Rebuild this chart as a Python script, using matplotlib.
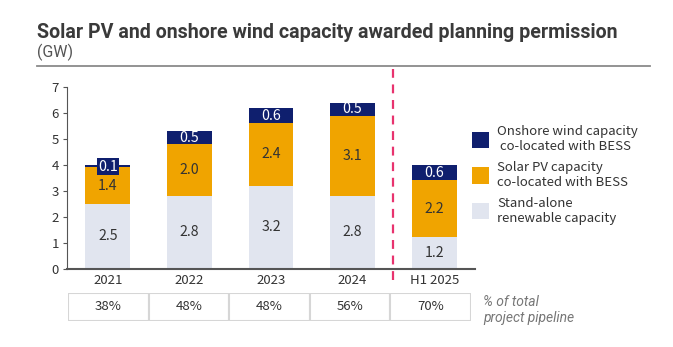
import matplotlib.pyplot as plt
from matplotlib.patches import Rectangle

plt.rcParams['font.family'] = ['Noto Sans CJK JP', 'DejaVu Sans']

# data
periods = ['2021', '2022', '2023', '2024', 'H1 2025']
standalone = [2.5, 2.8, 3.2, 2.8, 1.2]
solar_bess = [1.4, 2.0, 2.4, 3.1, 2.2]
wind_bess = [0.1, 0.5, 0.6, 0.5, 0.6]
pipeline_share = ['38%', '48%', '48%', '56%', '70%']

navy = '#0f1f6e'
orange = '#f0a400'
light = '#e1e5ef'
txt = '#333333'

fig = plt.figure(figsize=(6.73, 3.47), dpi=100)
ax = fig.add_axes([67/673, 1 - 268.5/347, (475-67)/673, (268.5-87)/347])

x = list(range(len(periods)))
w = 0.55
ax.bar(x, standalone, w, color=light, label='Stand-alone\nrenewable capacity')
bottom2 = standalone
ax.bar(x, solar_bess, w, bottom=bottom2, color=orange,
       label='Solar PV capacity\nco-located with BESS')
bottom3 = [a + b for a, b in zip(standalone, solar_bess)]
ax.bar(x, wind_bess, w, bottom=bottom3, color=navy,
       label='Onshore wind capacity\n co-located with BESS')

for i in x:
    ax.text(i, standalone[i] / 2, f'{standalone[i]:.1f}', ha='center', va='center',
            fontsize=10.2, color=txt)
    ax.text(i, bottom2[i] + solar_bess[i] / 2, f'{solar_bess[i]:.1f}', ha='center',
            va='center', fontsize=10.2, color=txt)
    if wind_bess[i] < 0.3:
        ax.text(i, bottom3[i] + 0.03, f'{wind_bess[i]:.1f}', ha='center', va='center',
                fontsize=10.2, color='white',
                bbox=dict(boxstyle='square,pad=0.1', fc=navy, ec='none'))
    else:
        ax.text(i, bottom3[i] + wind_bess[i] / 2, f'{wind_bess[i]:.1f}', ha='center',
                va='center', fontsize=10.2, color='white')

ax.set_xlim(-0.5, 4.5)
ax.set_ylim(0, 7)
ax.set_yticks(range(8))
ax.set_xticks(x)
ax.set_xticklabels(periods)
ax.tick_params(axis='y', length=3, color='#555555', labelcolor=txt, labelsize=9.5, pad=3)
ax.tick_params(axis='x', length=0, labelcolor=txt, labelsize=9.5, pad=4)
for s in ['top', 'right']:
    ax.spines[s].set_visible(False)
ax.spines['left'].set_color('#555555')
ax.spines['bottom'].set_color('#555555')
ax.spines['bottom'].set_linewidth(1.5)

# divider between full years and H1
ax.plot([3.5, 3.5], [-0.45, 7.7], color='#e8336e', lw=1.6, ls=(0, (4, 3)), clip_on=False)

handles, labels = ax.get_legend_handles_labels()
ax.legend(handles[::-1], labels[::-1], loc='upper left', bbox_to_anchor=(0.98, 0.82),
          frameon=False, fontsize=9.5, handlelength=1.3, handleheight=1.5,
          labelspacing=0.6, labelcolor=txt, handletextpad=0.6, borderaxespad=0)

# share of pipeline row
tab = fig.add_axes([68/673, 1 - 321/347, (471-68)/673, 28/347])
tab.set_xlim(0, 5)
tab.set_ylim(0, 1)
tab.axis('off')
for i, s in enumerate(pipeline_share):
    tab.add_patch(Rectangle((i, 0), 1, 1, fc='white', ec='#d6d6d6', lw=1.5))
    tab.text(i + 0.5, 0.5, s, ha='center', va='center', fontsize=9.5, color=txt)
fig.text(483/673, 1 - 310/347, '% of total\nproject pipeline', ha='left', va='center',
         fontsize=10, style='italic', color='#777777', linespacing=1.1, family='Roboto')

# title block
fig.text(37/673, 1 - 32/347, 'Solar PV and onshore wind capacity awarded planning permission',
         fontsize=14.1, fontweight='bold', color='#3a3a3a', family='Roboto', va='center')
fig.text(37/673, 1 - 52/347, '(GW)', fontsize=11.5, color='#555555', family='Roboto',
         va='center')
fig.add_artist(plt.Line2D([37/673, 650/673], [1 - 66/347, 1 - 66/347], color='#8a8a8a', lw=1.3))

fig.savefig('out.png', dpi=100)
